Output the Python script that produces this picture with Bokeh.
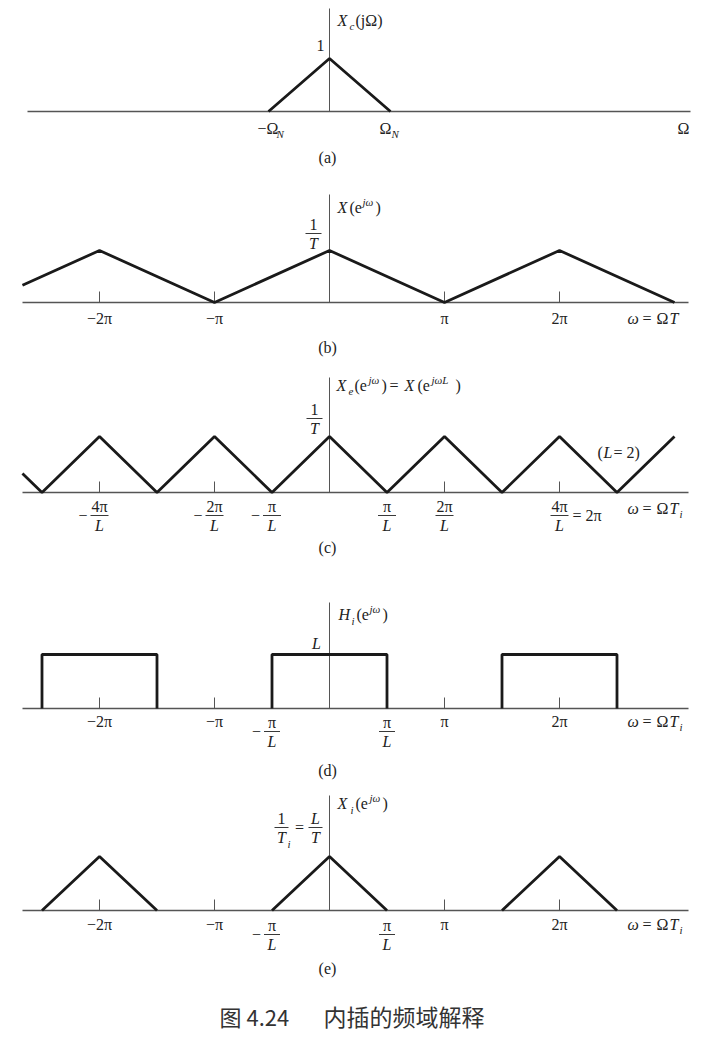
import numpy as np
from bokeh.plotting import figure
from bokeh.layouts import column
from bokeh.models import Range1d
from bokeh.core.properties import value
from bokeh.embed import file_html
from bokeh.resources import INLINE

# ---------------- data (frequency in units of pi, amplitude relative to peak) -------------
a_Omega = [-1.0, 0.0, 1.0]          # Omega in units of Omega_N
a_amp = [0.0, 1.0, 0.0]

b_omega = [-2.67, -2.0, -1.0, 0.0, 1.0, 2.0, 3.0]
b_amp = [0.33, 1.0, 0.0, 1.0, 0.0, 1.0, 0.0]

c_omega = [-2.67, -2.5, -2.0, -1.5, -1.0, -0.5, 0.0, 0.5, 1.0, 1.5, 2.0, 2.5, 3.0]
c_amp = [0.34, 0.0, 1.0, 0.0, 1.0, 0.0, 1.0, 0.0, 1.0, 0.0, 1.0, 0.0, 1.0]

d_left = [-2.5, -0.5, 1.5]
d_right = [-1.5, 0.5, 2.5]
d_height = [1.0, 1.0, 1.0]

e_center = [-2.0, 0.0, 2.0]
e_halfwidth = [0.5, 0.5, 0.5]
e_height = [1.0, 1.0, 1.0]

tick_pos = [-2.0, -1.0, 1.0, 2.0]
pi_labels = ["\u22122\u03c0", "\u2212\u03c0", "\u03c0", "2\u03c0"]
c_frac_pos = [-2.0, -1.0, -0.5, 0.5, 1.0, 2.0]
c_frac_num = ["4\u03c0", "2\u03c0", "\u03c0", "\u03c0", "2\u03c0", "4\u03c0"]
de_frac_pos = [-0.5, 0.5]
de_frac_num = ["\u03c0", "\u03c0"]

SERIF = "Liberation Serif"
W = 709
INK = "#1a1a1a"
AX = "#555555"


class Panel:
    def __init__(self, top, H, B, P, SX, X0=329):
        self.top, self.H, self.B, self.P, self.SX, self.X0 = top, H, B, P, SX, X0
        p = figure(width=W, height=H, output_backend="svg", toolbar_location=None,
                   x_range=Range1d(-X0 / SX, (W - X0) / SX),
                   y_range=Range1d(-(H - B) / P, B / P),
                   x_axis_location=None, y_axis_location=None,
                   min_border=0, outline_line_color=None,
                   background_fill_color="white", border_fill_color="white")
        p.xgrid.visible = False
        p.ygrid.visible = False
        self.p = p

    def x(self, rx):
        return (rx - self.X0) / self.SX

    def rx(self, xd):
        return xd * self.SX + self.X0

    def y(self, ry):
        return (self.B - (ry - self.top)) / self.P

    def ry0(self):
        return self.top + self.B

    def text(self, rx, ry, s, size=16, italic=False, align="left", color="#222222", font=SERIF):
        self.p.text(x=[self.x(rx)], y=[self.y(ry)], text=[s],
                    text_font=value(font), text_font_size=f"{size}px",
                    text_font_style="italic" if italic else "normal",
                    text_align=align, text_baseline="middle", text_color=color)

    def seg(self, rx0, ry0, rx1, ry1, w=1.0, color="#222222"):
        self.p.segment(x0=[self.x(rx0)], y0=[self.y(ry0)], x1=[self.x(rx1)], y1=[self.y(ry1)],
                       line_width=w, line_color=color)

    def axes(self, rtop, rleft=22, rright=688):
        b = self.ry0()
        self.seg(rleft, b, rright, b, 1.3, AX)
        self.seg(self.rx(0), b, self.rx(0), rtop, 1.0, AX)

    def ticks(self, pos, h=11):
        b = self.ry0()
        for t in pos:
            self.seg(self.rx(t), b, self.rx(t), b - h, 1.0, AX)

    def frac(self, cx, ry_num, num, den, halfw=8, minus=False, num_italic=False):
        self.text(cx, ry_num, num, italic=num_italic, align="center")
        self.seg(cx - halfw, ry_num + 9, cx + halfw, ry_num + 9, 0.9)
        self.text(cx, ry_num + 19, den, italic=True, align="center")
        if minus:
            self.text(cx - halfw - 3, ry_num + 9, "\u2212", align="right")

    def omega_T(self, ry, sub=True):
        self.text(627, ry, "\u03c9", italic=True)
        self.text(642, ry, "=")
        self.text(656, ry, "\u03a9")
        self.text(669, ry, "T", italic=True)
        if sub:
            self.text(679, ry + 5, "i", size=11, italic=True)


panels = []
LW = 2.8

# ---------------- (a) ----------------
pa = Panel(top=0, H=175, B=111, P=53, SX=61)
pa.axes(rtop=8, rleft=27, rright=690)
pa.p.line(a_Omega, a_amp, line_width=LW, line_color=INK)
pa.text(337, 20, "X", italic=True)
pa.text(349, 25, "c", size=11, italic=True)
pa.text(355, 20, "(j\u03a9)")
pa.text(320, 45, "1", align="center")
pa.text(257, 128, "\u2212\u03a9")
pa.text(276, 133, "N", size=11, italic=True)
pa.text(379, 128, "\u03a9")
pa.text(391, 133, "N", size=11, italic=True)
pa.text(683, 128, "\u03a9", align="center")
pa.text(327, 157, "(a)", align="center")
panels.append(pa.p)

# ---------------- (b) ----------------
pb = Panel(top=175, H=187, B=127, P=52, SX=115)
pb.axes(rtop=194)
pb.ticks(tick_pos)
pb.p.line(b_omega, b_amp, line_width=LW, line_color=INK)
pb.text(337, 207, "X", italic=True)
pb.text(349, 207, "(e")
pb.text(362, 201, "j\u03c9", size=11, italic=True)
pb.text(375, 207, ")")
pb.frac(313, 224, "1", "T")
for t, s in zip(tick_pos, pi_labels):
    pb.text(pb.rx(t), 318, s, align="center")
pb.omega_T(318, sub=False)
pb.text(327, 347, "(b)", align="center")
panels.append(pb.p)

# ---------------- (c) ----------------
pc = Panel(top=362, H=223, B=130, P=56, SX=115)
pc.axes(rtop=377)
pc.ticks(tick_pos)
pc.p.line(c_omega, c_amp, line_width=LW, line_color=INK)
pc.text(336, 385, "X", italic=True)
pc.text(348, 391, "e", size=11, italic=True)
pc.text(354, 385, "(e")
pc.text(368, 379, "j\u03c9", size=11, italic=True)
pc.text(381, 385, ")")
pc.text(389, 385, "=")
pc.text(404, 385, "X", italic=True)
pc.text(417, 385, "(e")
pc.text(431, 379, "j\u03c9L", size=11, italic=True)
pc.text(455, 385, ")")
pc.frac(314, 409, "1", "T")
pc.text(597, 452, "(")
pc.text(603, 452, "L", italic=True)
pc.text(613, 452, "= 2)")
for t, s in zip(c_frac_pos, c_frac_num):
    pc.frac(pc.rx(t), 506, s, "L", halfw=9, minus=(t < 0))
pc.text(572, 515, "= 2\u03c0")
pc.omega_T(508)
pc.text(327, 547, "(c)", align="center")
panels.append(pc.p)

# ---------------- (d) ----------------
pd = Panel(top=585, H=200, B=123, P=54, SX=115)
pd.axes(rtop=602)
pd.ticks(tick_pos)
d_xs = [[l, l, r, r] for l, r in zip(d_left, d_right)]
d_ys = [[0.0, h, h, 0.0] for h in d_height]
pd.p.multi_line(d_xs, d_ys, line_width=LW, line_color=INK)
pd.text(338, 614, "H", italic=True)
pd.text(351, 620, "i", size=11, italic=True)
pd.text(356, 614, "(e")
pd.text(369, 608, "j\u03c9", size=11, italic=True)
pd.text(382, 614, ")")
pd.text(316, 643, "L", italic=True, align="center")
for t, s in zip(tick_pos, pi_labels):
    pd.text(pd.rx(t), 721, s, align="center")
for t, s in zip(de_frac_pos, de_frac_num):
    pd.frac(pd.rx(t), 722, s, "L", minus=(t < 0))
pd.omega_T(721)
pd.text(327, 770, "(d)", align="center")
panels.append(pd.p)

# ---------------- (e) ----------------
pe = Panel(top=785, H=253, B=125, P=54, SX=115)
pe.axes(rtop=795)
pe.ticks(tick_pos)
e_xs = [[c - w, c, c + w] for c, w in zip(e_center, e_halfwidth)]
e_ys = [[0.0, h, 0.0] for h in e_height]
pe.p.multi_line(e_xs, e_ys, line_width=LW, line_color=INK)
pe.text(337, 803, "X", italic=True)
pe.text(350, 809, "i", size=11, italic=True)
pe.text(355, 803, "(e")
pe.text(369, 797, "j\u03c9", size=11, italic=True)
pe.text(382, 803, ")")
pe.frac(281, 818, "1", "T", halfw=7)
pe.text(287, 843, "i", size=11, italic=True)
pe.text(299, 827, "=", align="center")
pe.frac(315, 818, "L", "T", halfw=7, num_italic=True)
for t, s in zip(tick_pos, pi_labels):
    pe.text(pe.rx(t), 924, s, align="center")
for t, s in zip(de_frac_pos, de_frac_num):
    pe.frac(pe.rx(t), 925, s, "L", minus=(t < 0))
pe.omega_T(924)
pe.text(327, 968, "(e)", align="center")
pe.text(219, 1015, "\u56fe 4.24", size=22, color="#333333", font="Noto Sans CJK SC")
pe.text(323, 1015, "\u5185\u63d2\u7684\u9891\u57df\u89e3\u91ca", size=23, color="#333333",
        font="Noto Sans CJK SC")
panels.append(pe.p)

layout = column(*panels, spacing=0)
open("out.html", "w").write(file_html(layout, INLINE))
